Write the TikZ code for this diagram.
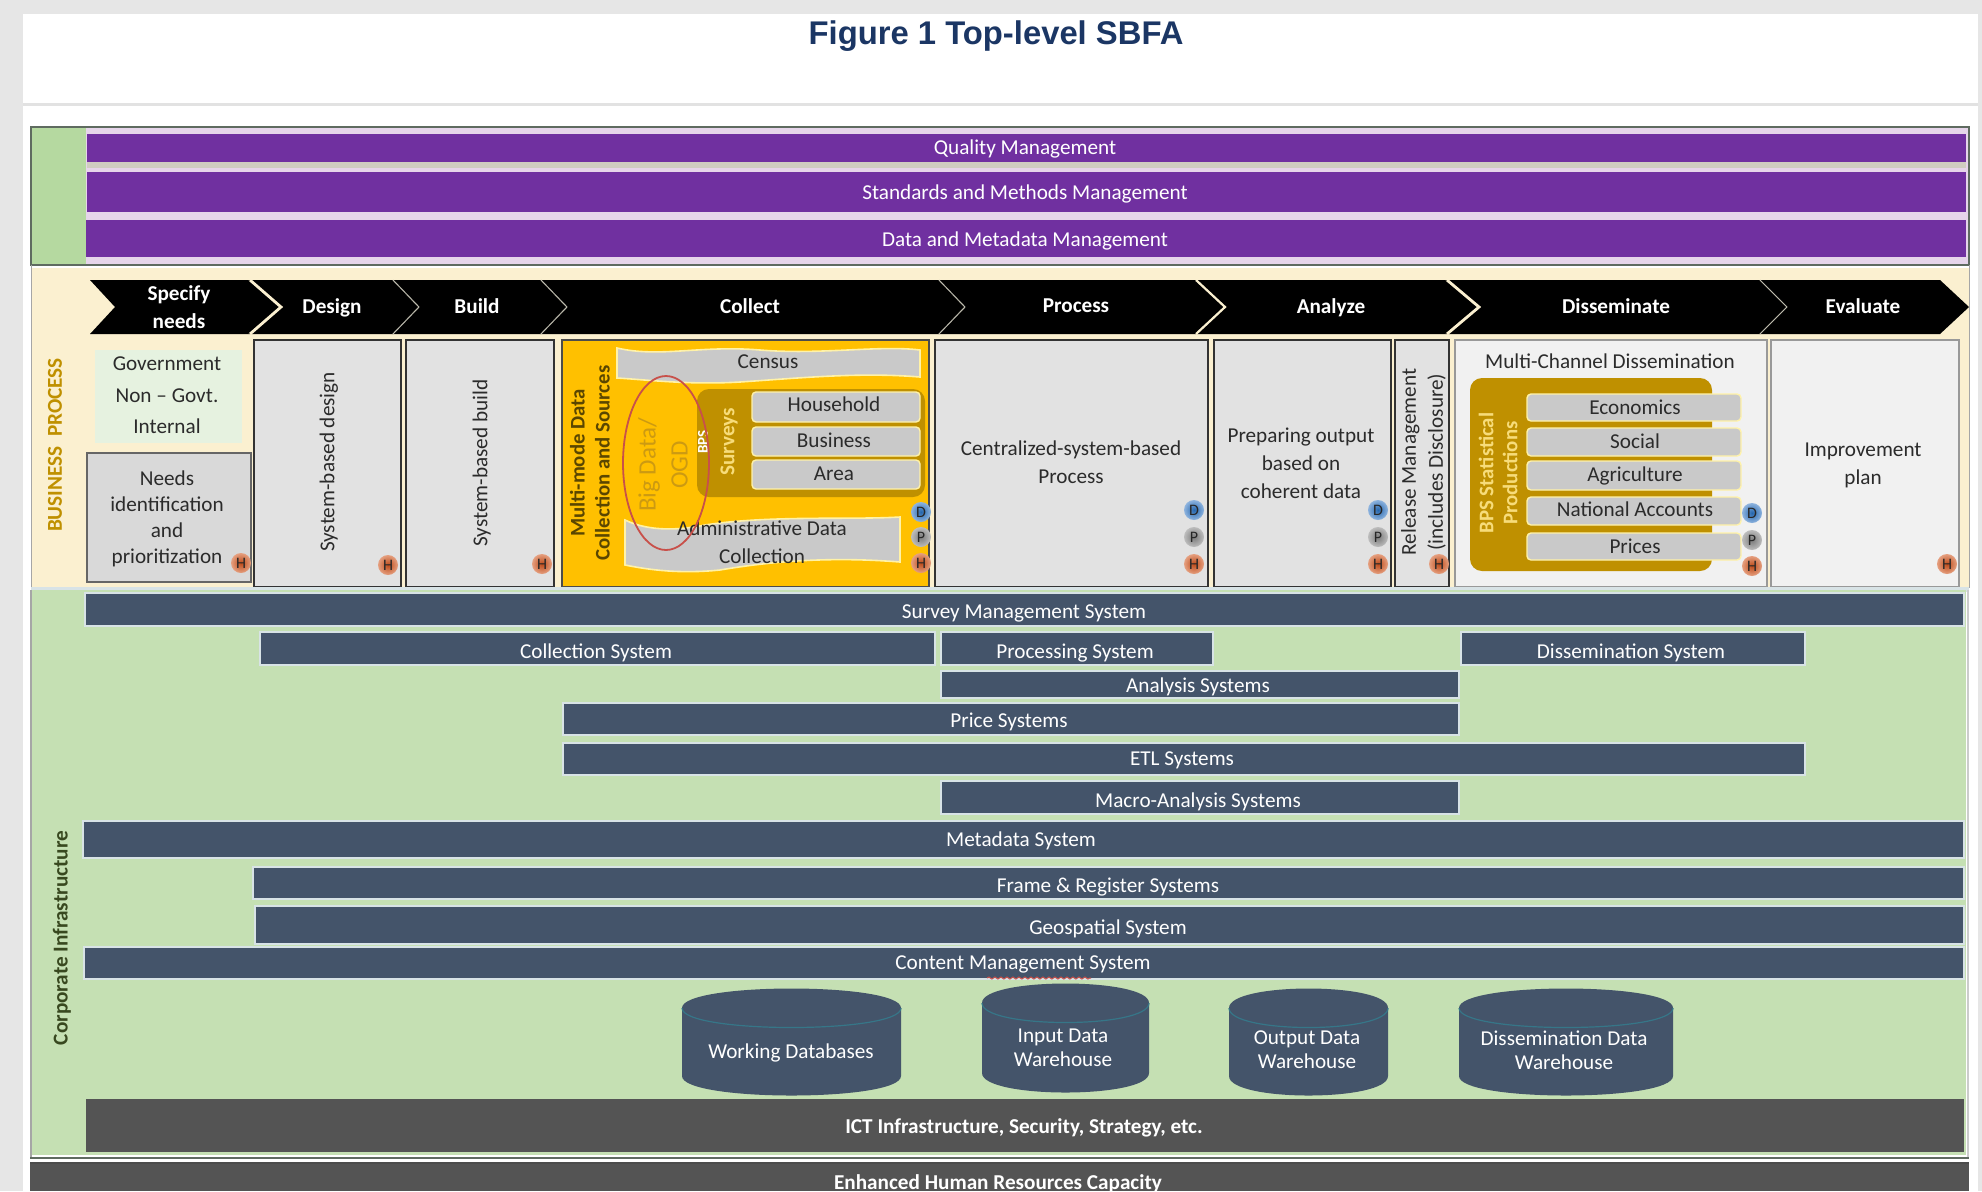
\documentclass[tikz,border=0pt]{standalone}
\usepackage{fontspec}
\setmainfont{Carlito}
\newfontfamily\titlefont{Liberation Sans}
\usetikzlibrary{decorations.pathmorphing}
\definecolor{pagegrey}{HTML}{E6E6E6}
\definecolor{ruleline}{HTML}{E2E2E2}
\definecolor{frameline}{HTML}{5F6B60}
\definecolor{greenpanel}{HTML}{C5E0B3}
\definecolor{greentop}{HTML}{B5D9A0}
\definecolor{lilacgap}{HTML}{E6D5EA}
\definecolor{beigegap}{HTML}{CFCDC0}
\definecolor{purplebar}{HTML}{7030A0}
\definecolor{creampanel}{HTML}{FBF0D0}
\definecolor{boxgrey}{HTML}{E2E2E2}
\definecolor{paleboxgrey}{HTML}{F1F1F1}
\definecolor{needgrey}{HTML}{D9D9D9}
\definecolor{govgreen}{HTML}{E6F2E0}
\definecolor{yellowbox}{HTML}{FFC000}
\definecolor{goldbox}{HTML}{BF9000}
\definecolor{itemgrey}{HTML}{C9C9C9}
\definecolor{paleedge}{HTML}{FFF2A8}
\definecolor{goldtext}{HTML}{F7DC7A}
\definecolor{bizgold}{HTML}{BF9000}
\definecolor{barblue}{HTML}{44546A}
\definecolor{baredge}{HTML}{D8E3E6}
\definecolor{darkband}{HTML}{545454}
\definecolor{darktext}{HTML}{2B2B2B}
\definecolor{titleblue}{HTML}{1B3664}
\definecolor{redring}{HTML}{C8504A}
\definecolor{bigtext}{HTML}{CC9A12}
\definecolor{sidetext}{HTML}{5A4600}
\definecolor{corptext}{HTML}{38481F}
\definecolor{thinsep}{HTML}{BDBBAE}
\definecolor{hinner}{HTML}{BE4A18}
\definecolor{houter}{HTML}{E5A080}
\definecolor{dinner}{HTML}{2466AE}
\definecolor{douter}{HTML}{8FB4DE}
\definecolor{pinner}{HTML}{7A7A7A}
\definecolor{pouter}{HTML}{BDBDBD}
\tikzset{
  evenline/.style={execute at begin node={\vphantom{Agy}},execute at end node={\vphantom{Agy}}},
  lbl/.style={evenline,text=darktext,inner sep=0pt,align=center,yshift=-.4pt,font=\fontsize{10.6}{#1}\selectfont},
  lbl/.default=14,
  whitelbl/.style={evenline,text=white,inner sep=0pt,align=center,yshift=-.4pt,font=\fontsize{10.6}{#1}\selectfont},
  whitelbl/.default=12,
  boldlbl/.style={evenline,text=white,inner sep=0pt,align=center,yshift=-.4pt,font=\fontsize{10.6}{14}\selectfont\bfseries},
  greybox/.style={fill=boxgrey,draw=black!80,line width=1pt},
  palebox/.style={fill=paleboxgrey,draw=black!40,line width=.6pt},
  barshape/.style={fill=barblue,draw=baredge,line width=.9pt},
  itembox/.style={fill=itemgrey,draw=paleedge,line width=.7pt,rounded corners=2pt},
  goldshape/.style={fill=goldbox,rounded corners=6pt},
  chevshape/.style={fill=black},
  thicksep/.style={draw=creampanel,line width=1.4pt},
  midsep/.style={draw=creampanel,line width=1.1pt},
  thinseparator/.style={draw=thinsep,line width=.5pt},
  badge/.style={circle,inner sep=0pt,minimum size=10pt,text=black!85,font=\fontsize{8}{8}\selectfont},
  dbadge/.style={badge,inner color=dinner,outer color=douter},
  pbadge/.style={badge,inner color=pinner,outer color=pouter},
  hbadge/.style={badge,inner color=hinner,outer color=houter},
}
\newcommand{\barrow}[7]{%
  \draw[barshape] (#2,#3) rectangle (#4,#5);
  \node[whitelbl] (#1) at (#6,#7) {\csname barlabel#1\endcsname};}
\newcommand{\chevron}[7]{%
  \fill[chevshape] (#2,280) -- (#3,280) -- (#4,307) -- (#3,334) -- (#2,334) -- (#5,307) -- cycle;
  \node[boldlbl] (#1) at (#6,#7) {\csname chevlabel#1\endcsname};}
\newcommand{\dbcyl}[5]{%
  \fill[barblue] (#2,#3+20) .. controls (#2,#3-6) and (#4,#3-6) .. (#4,#3+20)
    -- (#4,#5-20) .. controls (#4,#5+6) and (#2,#5+6) .. (#2,#5-20) -- cycle;
  \draw[barblue!80!cyan,line width=.6pt] (#2,#3+20) .. controls (#2,#3+46) and (#4,#3+46) .. (#4,#3+20);}
\expandafter\def\csname barlabelsurvey\endcsname{Survey Management System}
\expandafter\def\csname barlabelcollection\endcsname{Collection System}
\expandafter\def\csname barlabelprocessing\endcsname{Processing System}
\expandafter\def\csname barlabeldissemination\endcsname{Dissemination System}
\expandafter\def\csname barlabelanalysis\endcsname{Analysis Systems}
\expandafter\def\csname barlabelprice\endcsname{Price Systems}
\expandafter\def\csname barlabeletl\endcsname{ETL Systems}
\expandafter\def\csname barlabelmacro\endcsname{Macro-Analysis Systems}
\expandafter\def\csname barlabelmetadata\endcsname{Metadata System}
\expandafter\def\csname barlabelframe\endcsname{Frame \& Register Systems}
\expandafter\def\csname barlabelgeo\endcsname{Geospatial System}
\expandafter\def\csname barlabelcontent\endcsname{Content Management System}
\expandafter\def\csname chevlabelspecify\endcsname{Specify\\needs}
\expandafter\def\csname chevlabeldesign\endcsname{Design}
\expandafter\def\csname chevlabelbuild\endcsname{Build}
\expandafter\def\csname chevlabelcollect\endcsname{Collect}
\expandafter\def\csname chevlabelprocess\endcsname{Process}
\expandafter\def\csname chevlabelanalyze\endcsname{Analyze}
\expandafter\def\csname chevlabeldisseminate\endcsname{Disseminate}
\expandafter\def\csname chevlabelevaluate\endcsname{Evaluate}
\begin{document}
\begin{tikzpicture}[x=0.5pt,y=-0.5pt]
\useasboundingbox (0,0) rectangle (1982,1191);
% page
\fill[pagegrey] (0,0) rectangle (1982,1191);
\fill[white] (23,14) rectangle (1978,1191);
\fill[ruleline] (23,103) rectangle (1978,106);
\node[text=titleblue,inner sep=0pt,font=\titlefont\fontsize{16.4}{18}\selectfont\bfseries] (title) at (996,36) {Figure 1 Top-level SBFA};
% top section
\fill[lilacgap] (31,128) rectangle (1968,264);
\fill[greentop] (31,128) rectangle (86,264);
\fill[beigegap] (87,162) rectangle (1966,168);
\fill[purplebar] (87,134) rectangle (1966,162);
\fill[purplebar] (87,172) rectangle (1966,212);
\fill[purplebar] (86,220) rectangle (1966,257);
\node[whitelbl] (quality) at (1025,148) {Quality Management};
\node[whitelbl] (standards) at (1025,193) {Standards and Methods Management};
\node[whitelbl] (datamgmt) at (1025,240) {Data and Metadata Management};
\draw[frameline,line width=1pt] (31,127) rectangle (1969,265);
% business process section
\fill[creampanel] (31,268) rectangle (1969,588);
\draw[black!35,line width=.5pt] (31,265) -- (31,588) (1969,265) -- (1969,588);
\node[rotate=90,text=bizgold,inner sep=0pt,font=\fontsize{10.6}{12}\selectfont\bfseries] (business) at (55,445) {BUSINESS\ \ PROCESS};
% chevrons
\chevron{specify}{90}{248}{279}{115}{179}{308}
\chevron{design}{248}{392}{418}{279}{332}{307}
\chevron{build}{392}{540}{566}{418}{477}{307}
\chevron{collect}{540}{938}{964}{566}{750}{307}
\chevron{process}{938}{1195}{1224}{964}{1076}{307}
\chevron{analyze}{1195}{1445}{1477}{1224}{1331}{307}
\chevron{disseminate}{1445}{1759}{1786}{1477}{1616}{307}
\chevron{evaluate}{1759}{1940}{1969}{1786}{1863}{307}
\draw[thicksep] (250,280) -- (281,307) -- (250,334);
\draw[thinseparator] (393,280) -- (419,307) -- (393,334);
\draw[thinseparator] (541,280) -- (567,307) -- (541,334);
\draw[thinseparator] (939,280) -- (965,307) -- (939,334);
\draw[midsep] (1196,280) -- (1225,307) -- (1196,334);
\draw[thicksep] (1447,280) -- (1479,307) -- (1447,334);
\draw[thinseparator] (1760,280) -- (1787,307) -- (1760,334);
% green header block
\fill[govgreen] (95,350) rectangle (242,443);
\node[lbl] (gov) at (167,365) {Government};
\node[lbl] (nongov) at (167,397) {Non -- Govt.};
\node[lbl] (internal) at (167,427) {Internal};
\draw[fill=needgrey,draw=black!60,line width=.8pt] (87,453) rectangle (251,582);
\node[lbl=12.9] (needs) at (167,518) {Needs\\identification\\and\\prioritization};
% column boxes
\draw[greybox] (254,340) rectangle (401,587);
\draw[greybox] (406,340) rectangle (554,587);
\draw[greybox] (935,340) rectangle (1208,587);
\draw[greybox] (1214,340) rectangle (1391,587);
\draw[greybox] (1395,340) rectangle (1449,587);
\draw[palebox] (1455,340) rectangle (1767,587);
\draw[palebox] (1771,340) rectangle (1959,587);
\node[rotate=90,lbl] (sbdesign) at (328,462) {System-based design};
\node[rotate=90,lbl] (sbbuild) at (481,463) {System-based build};
\node[lbl] (central) at (1071,463) {Centralized-system-based\\Process};
\node[lbl] (prepare) at (1301,464) {Preparing output\\based on\\coherent data};
\node[rotate=90,lbl=13.5] (release) at (1423,462) {Release Management\\(includes Disclosure)};
\node[lbl] (improve) at (1863,465) {Improvement\\plan};
% collect
\draw[fill=yellowbox,draw=black!70,line width=1pt] (562,340) rectangle (929,587);
\draw[fill=itemgrey,draw=paleedge,line width=.8pt] (617,348) .. controls (660,358) and (700,345) .. (760,350) .. controls (820,355) and (880,345) .. (920,350) -- (920,377) .. controls (860,372) and (800,378) .. (740,382) .. controls (690,385) and (650,380) .. (617,378) -- cycle;
\node[lbl] (census) at (768,363) {Census};
\fill[goldshape] (697,389) rectangle (925,497);
\draw[itembox] (752,392) rectangle (920,422);
\draw[itembox] (752,427) rectangle (920,456);
\draw[itembox] (752,460) rectangle (920,489);
\node[lbl] (household) at (834,405) {Household};
\node[lbl] (businessitem) at (834,441) {Business};
\node[lbl] (area) at (834,475) {Area};
\node[rotate=90,text=goldtext,inner sep=0pt,font=\fontsize{10.6}{12}\selectfont\bfseries] (surveys) at (729,442) {Surveys};
\node[rotate=90,text=white,inner sep=0pt,font=\fontsize{7.5}{9}\selectfont\bfseries] (bps) at (703,442) {BPS};
\draw[fill=itemgrey,draw=paleedge,line width=.8pt] (625,520) .. controls (650,532) and (680,530) .. (705,525) .. controls (770,515) and (850,520) .. (900,517) -- (900,562) .. controls (850,558) and (790,558) .. (720,570) .. controls (680,574) and (650,570) .. (625,565) -- cycle;
\node[lbl] (admin) at (762,543) {Administrative Data\\Collection};
\node[rotate=90,text=bigtext,inner sep=0pt,align=center,font=\fontsize{12.5}{16}\selectfont] (bigdata) at (663,465) {Big Data/\\OGD};
\node[rotate=90,text=sidetext,inner sep=0pt,align=center,font=\fontsize{10.4}{12.5}\selectfont\bfseries] (multimode) at (590,463) {Multi-mode Data\\Collection and Sources};
\draw[redring,line width=.9pt] (666,463) ellipse (43 and 87);
% multi-channel
\node[lbl] (multich) at (1610,362) {Multi-Channel Dissemination};
\fill[goldshape] (1470,378) rectangle (1712,571);
\draw[itembox] (1527,394) rectangle (1741,421);
\draw[itembox] (1527,428) rectangle (1741,456);
\draw[itembox] (1527,461) rectangle (1741,490);
\draw[itembox] (1527,497) rectangle (1741,525);
\draw[itembox] (1527,533) rectangle (1741,560);
\node[lbl] (economics) at (1635,408) {Economics};
\node[lbl] (social) at (1635,442) {Social};
\node[lbl] (agriculture) at (1635,475) {Agriculture};
\node[lbl] (national) at (1635,510) {National Accounts};
\node[lbl] (prices) at (1635,547) {Prices};
\node[rotate=90,text=goldtext,inner sep=0pt,align=center,font=\fontsize{10.4}{12}\selectfont\bfseries] (bpsstat) at (1498,473) {BPS Statistical\\Productions};
% badges
\node[hbadge] (h1) at (241,563) {H};
\node[hbadge] (h2) at (388,565) {H};
\node[hbadge] (h3) at (542,564) {H};
\node[dbadge] (d4) at (921,512) {D};
\node[pbadge] (p4) at (921,537) {P};
\node[hbadge] (h4) at (921,563) {H};
\node[dbadge] (d5) at (1194,510) {D};
\node[pbadge] (p5) at (1194,537) {P};
\node[hbadge] (h5) at (1194,564) {H};
\node[dbadge] (d6) at (1378,510) {D};
\node[pbadge] (p6) at (1378,537) {P};
\node[hbadge] (h6) at (1378,564) {H};
\node[hbadge] (h7) at (1439,564) {H};
\node[dbadge] (d8) at (1752,513) {D};
\node[pbadge] (p8) at (1752,540) {P};
\node[hbadge] (h8) at (1752,566) {H};
\node[hbadge] (h9) at (1947,564) {H};
% corporate section
\fill[baredge] (31,587) rectangle (1969,592);
\fill[greenpanel] (31,590) rectangle (1966,1155);
\fill[black!35] (30,590) rectangle (31.5,1158);
\fill[black!20] (1967,590) rectangle (1969,1158);
\barrow{survey}{85}{593}{1964}{626}{1024}{613}
\barrow{collection}{260}{632}{935}{665}{596}{652}
\barrow{processing}{941}{632}{1213}{665}{1075}{652}
\barrow{dissemination}{1461}{632}{1805}{665}{1631}{652}
\barrow{analysis}{941}{671}{1459}{698}{1198}{686}
\barrow{price}{563}{703}{1459}{735}{1009}{721}
\barrow{etl}{563}{743}{1805}{775}{1182}{760}
\barrow{macro}{941}{781}{1459}{814}{1198}{801}
\barrow{metadata}{83}{821}{1964}{858}{1021}{840}
\barrow{frame}{253}{867}{1964}{899}{1108}{886}
\barrow{geo}{255}{906}{1964}{944}{1108}{928}
\barrow{content}{84}{947}{1964}{979}{1023}{964}
\draw[redring,line width=.5pt,decorate,decoration={snake,amplitude=.5pt,segment length=3pt}] (987,978) -- (1091,978);
\node[rotate=90,text=corptext,inner sep=0pt,font=\fontsize{10.6}{12}\selectfont\bfseries] (corporate) at (62,938) {Corporate Infrastructure};
% cylinders
\dbcyl{working}{682}{988}{901}{1096}
\dbcyl{input}{982}{983}{1149}{1093}
\dbcyl{output}{1229}{988}{1388}{1096}
\dbcyl{dissemwh}{1459}{988}{1673}{1096}
\node[whitelbl] (workingt) at (791,1052) {Working Databases};
\node[whitelbl] (inputt) at (1063,1049) {Input Data\\Warehouse};
\node[whitelbl] (outputt) at (1307,1051) {Output Data\\Warehouse};
\node[whitelbl] (dissemt) at (1564,1051) {Dissemination Data\\Warehouse};
% ICT
\fill[darkband] (86,1099) rectangle (1964,1152);
\node[boldlbl] (ict) at (1024,1127) {ICT Infrastructure, Security, Strategy, etc.};
\draw[frameline,line width=1pt] (30,1158) -- (1969,1158);
% bottom
\fill[darkband] (30,1163) rectangle (1969,1191);
\draw[black!70,line width=.8pt] (30,1163) -- (1969,1163);
\node[boldlbl] (hr) at (998,1183) {Enhanced Human Resources Capacity};
\end{tikzpicture}
\end{document}
